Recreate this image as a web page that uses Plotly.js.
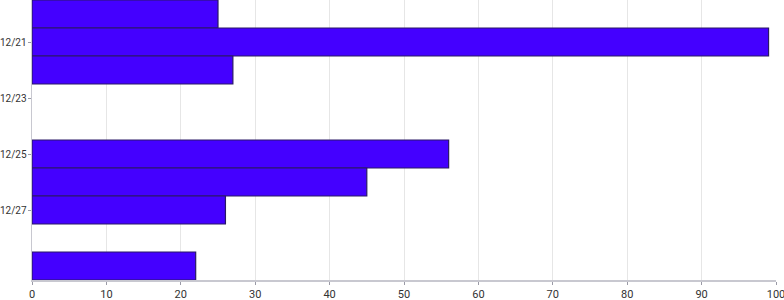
<!DOCTYPE html>
<html>
<head>
<meta charset="utf-8">
<script src="https://cdn.plot.ly/plotly-3.0.1.min.js"></script>
<style>
  html, body { margin: 0; padding: 0; background: #fff; }
  #chart { width: 784px; height: 300px; }
</style>
</head>
<body>
<div id="chart"></div>
<script>
// Daily counts, one horizontal bar per day
const days = ['2020-12-20', '2020-12-21', '2020-12-22', '2020-12-25', '2020-12-26', '2020-12-27', '2020-12-29'];
const counts = [25, 99, 27, 56, 45, 26, 22];
const xTicks = [0, 10, 20, 30, 40, 50, 60, 70, 80, 90, 100];
const yTicks = ['2020-12-21', '2020-12-23', '2020-12-25', '2020-12-27'];
const yTickText = ['12/21', '12/23', '12/25', '12/27'];

const trace = {
  type: 'bar',
  orientation: 'h',
  y: days,
  x: counts,
  width: 86400000,
  marker: {
    color: '#4400ff',
    line: { color: '#2a1866', width: 1.2 }
  },
  hoverinfo: 'x+y'
};

const layout = {
  width: 784,
  height: 300,
  margin: { l: 32, r: 8, t: 0, b: 20, pad: 0 },
  paper_bgcolor: '#ffffff',
  plot_bgcolor: '#ffffff',
  showlegend: false,
  bargap: 0,
  font: { family: 'Roboto, "Liberation Sans", sans-serif', size: 11, color: '#333333' },
  xaxis: {
    range: [0, 100],
    tickvals: xTicks,
    ticktext: xTicks.map(String),
    ticklabeloverflow: 'allow',
    showgrid: true,
    gridcolor: '#e6e6e6',
    gridwidth: 1,
    zeroline: false,
    showline: true,
    linecolor: '#c8c8d0',
    linewidth: 1.5,
    ticks: 'outside',
    ticklen: 3,
    tickcolor: '#9a9aa6',
    tickfont: { size: 11, color: '#333333' }
  },
  yaxis: {
    type: 'date',
    range: ['2020-12-29 12:00', '2020-12-19 12:00'],
    tickvals: yTicks,
    ticktext: yTickText,
    ticklabeloverflow: 'allow',
    ticklabelstandoff: -1,
    showgrid: false,
    zeroline: false,
    showline: true,
    linecolor: '#c8c8d0',
    linewidth: 1.5,
    ticks: 'outside',
    ticklen: 3,
    tickcolor: '#9a9aa6',
    tickfont: { size: 10, color: '#333333' }
  }
};

Plotly.newPlot('chart', [trace], layout, { displayModeBar: false, staticPlot: true });
</script>
</body>
</html>
